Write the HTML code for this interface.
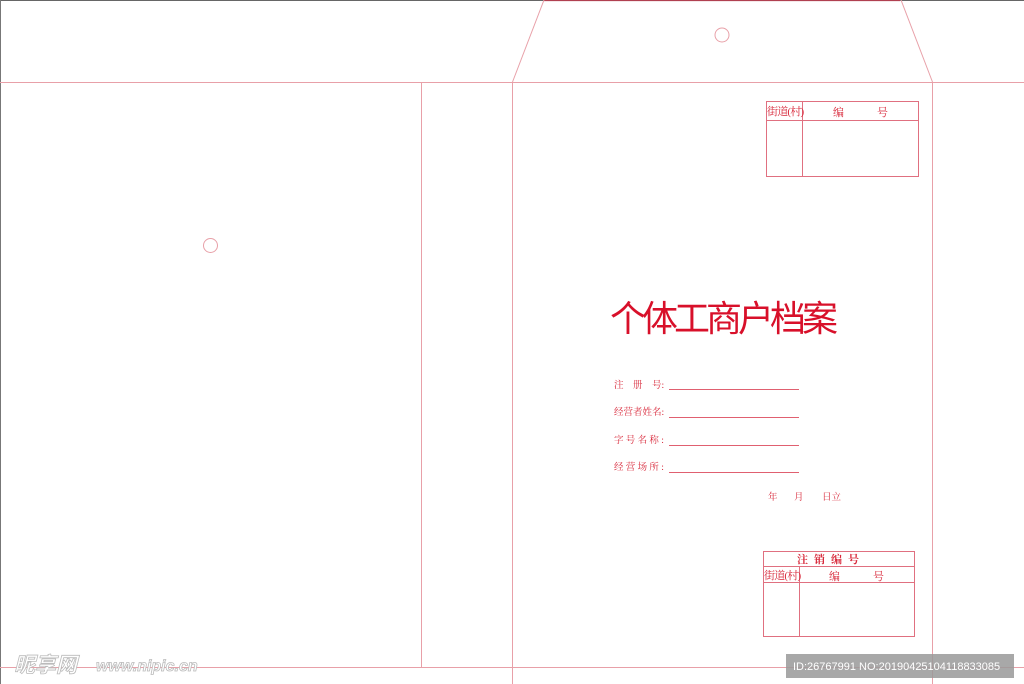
<!DOCTYPE html>
<html><head><meta charset="utf-8"><style>
html,body{margin:0;padding:0;background:#fff;}
body{width:1024px;height:684px;overflow:hidden;position:relative;font-family:"Liberation Sans","Noto Sans CJK SC",sans-serif;}
svg{position:absolute;left:0;top:0;}
</style></head><body>
<svg width="1024" height="684" viewBox="0 0 1024 684" xmlns="http://www.w3.org/2000/svg" font-family="'Liberation Serif','Noto Serif CJK SC','Noto Sans CJK SC',serif">
<line x1="0" y1="0.5" x2="1024" y2="0.5" stroke="#666" stroke-width="1"/>
<line x1="544" y1="0.5" x2="900" y2="0.5" stroke="#b04050" stroke-width="1.2"/>
<line x1="0.5" y1="0" x2="0.5" y2="684" stroke="#777" stroke-width="1"/>
<g stroke="#e8a0a8" stroke-width="1" fill="none">
<line x1="0" y1="82.5" x2="1024" y2="82.5"/>
<line x1="0" y1="667.5" x2="1024" y2="667.5"/>
<line x1="421.5" y1="82" x2="421.5" y2="667"/>
<line x1="512.5" y1="82" x2="512.5" y2="684"/>
<line x1="932.5" y1="82" x2="932.5" y2="684"/>
<line x1="512.5" y1="82" x2="544" y2="0"/>
<line x1="932.5" y1="82" x2="901" y2="0"/>
<circle cx="722" cy="35" r="7"/>
<circle cx="210.5" cy="245.5" r="7"/>
</g>
<g stroke="#e07080" stroke-width="1" fill="none">
<rect x="766.5" y="101.5" width="152" height="75"/>
<line x1="766" y1="120.5" x2="918" y2="120.5"/>
<line x1="802.5" y1="101" x2="802.5" y2="176"/>
<rect x="763.5" y="551.5" width="151" height="85"/>
<line x1="763" y1="566.5" x2="914" y2="566.5"/>
<line x1="763" y1="582.5" x2="914" y2="582.5"/>
<line x1="799.5" y1="566" x2="799.5" y2="636"/>
</g>
<g fill="#d8283a" font-size="11">
<text x="767" y="115" font-size="11" letter-spacing="-0.8">街道(村)</text>
<text x="833" y="116">编</text><text x="877" y="116">号</text>
<text x="764" y="579" letter-spacing="-0.8">街道(村)</text>
<text x="829" y="580">编</text><text x="873" y="580">号</text>
<text x="797" y="563" font-size="11" font-weight="bold" letter-spacing="6">注销编号</text>
</g>
<text x="610" y="331" font-size="36" fill="#d8102a" font-family="'Noto Sans CJK SC',sans-serif" letter-spacing="-4">个体工商户档案</text>
<g fill="#d8283a" font-size="9.5">
<text x="614" y="388">注　册　号:</text>
<text x="614" y="415">经营者姓名:</text>
<text x="614" y="443" letter-spacing="2.3">字号名称:</text>
<text x="614" y="470" letter-spacing="2.3">经营场所:</text>
<text x="768" y="500">年</text><text x="794" y="500">月</text><text x="822" y="500">日立</text>
</g>
<g stroke="#e06070" stroke-width="1">
<line x1="669" y1="389.5" x2="799" y2="389.5"/>
<line x1="669" y1="417.5" x2="799" y2="417.5"/>
<line x1="669" y1="445.5" x2="799" y2="445.5"/>
<line x1="669" y1="472.5" x2="799" y2="472.5"/>
</g>
<text x="14" y="672" font-size="21" fill="#fff" stroke="#bbb" stroke-width="0.8" font-weight="bold" font-style="italic" font-family="'Noto Sans CJK SC',sans-serif">昵享网</text>
<text x="96" y="671" font-size="16" fill="#fff" stroke="#bbb" stroke-width="0.8" font-weight="bold" font-style="italic" font-family="'Liberation Sans',sans-serif">www.nipic.cn</text>
<rect x="786" y="654" width="228" height="24" fill="#999" opacity="0.85"/>
<text x="793" y="670" font-size="11" fill="#fff" font-family="'Liberation Sans',sans-serif">ID:26767991 NO:20190425104118833085</text>
</svg>
</body></html>
